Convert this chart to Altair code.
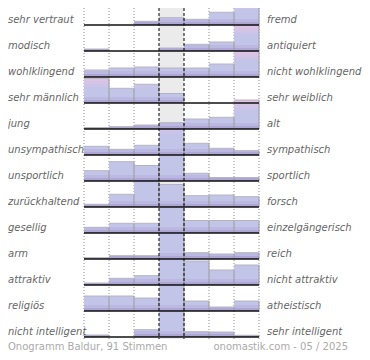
import altair as alt
import pandas as pd

left_labels = ["sehr vertraut", "modisch", "wohlklingend", "sehr männlich", "jung",
               "unsympathisch", "unsportlich", "zurückhaltend", "gesellig", "arm",
               "attraktiv", "religiös", "nicht intelligent"]
right_labels = ["fremd", "antiquiert", "nicht wohlklingend", "sehr weiblich", "alt",
                "sympathisch", "sportlich", "forsch", "einzelgängerisch", "reich",
                "nicht attraktiv", "atheistisch", "sehr intelligent"]

# estimated bar heights per row (7 answer steps, left pole -> right pole)
values = [
    [0, 0, 3.7, 7.3, 5.7, 12.7, 24.5],
    [2, 0, 0, 3, 6.7, 9, 26],
    [7, 9, 10, 9, 9, 13, 26],
    [24.7, 14.7, 18.7, 9.5, 0, 0, 0],
    [1.5, 2.3, 4, 6.3, 10, 11.7, 29],
    [8.7, 5.7, 9.7, 32, 11.7, 6.7, 4.3],
    [10.3, 19.3, 15.5, 40, 7.7, 3.5, 3.5],
    [2.7, 12.7, 40, 22.5, 11.3, 12, 10.3],
    [5.7, 9.7, 9.7, 40, 12.5, 12.5, 12.5],
    [1.3, 3.3, 3.3, 40, 6.3, 5, 6.3],
    [2, 6.7, 9.3, 40, 24, 15, 20],
    [15, 15, 13, 40, 10, 4, 10],
    [2, 0, 7.3, 40, 5.3, 5, 1.7],
]

footer_left = "Onogramm Baldur, 91 Stimmen"
footer_right = "onomastik.com - 05 / 2025"

steps = 7
neutral_step = [4]
dotted_edges = [0, 1, 2, 5, 6, 7]
dashed_edges = [3, 4]

abs_lo = [0, 1, 3, 6]
rel_lo = [0.65, 0.74, 0.82, 0.9, 10]
slice_colors = ["#9d92c8", "#aea7d6", "#bbb9e2", "#c3c5e8", "#cac5e8",
                "#d1c4e6", "#d7c3e5", "#ddc3e4"]

n = len(left_labels)
ROW = 26

recs = []
for i in reversed(range(n)):
    for j, v in enumerate(values[i]):
        recs.append({"row": i, "col": j + 1, "v": v, "base": (n - 1 - i) * ROW})
bars = pd.DataFrame(recs)

rows = pd.DataFrame({
    "row": list(range(n)),
    "left": left_labels,
    "right": right_labels,
    "base": [(n - 1 - i) * ROW for i in range(n)],
})

xs = alt.Scale(domain=[0, steps], nice=False, zero=False)
ys = alt.Scale(domain=[-23, 329], nice=False, zero=False)

bg = alt.Chart(pd.DataFrame({"c": neutral_step})).transform_calculate(
    c0="datum.c - 1"
).mark_rect(color="#ebebeb").encode(
    x=alt.X("c0:Q", scale=xs, axis=None),
    x2="c:Q",
    y=alt.value(0),
    y2=alt.value(331),
)

dotted = alt.Chart(pd.DataFrame({"e": dotted_edges})).mark_rule(
    color="#8a8a8a", strokeDash=[1, 2], strokeWidth=1
).encode(
    x=alt.X("e:Q", scale=xs, axis=None),
    y=alt.value(0),
    y2=alt.value(331),
)

def bound(kexpr):
    return (f"({kexpr}) < 4 ? {abs_lo}[{kexpr}] : "
            f"round(datum.rowmax * {rel_lo}[({kexpr}) - 4])")

slices = alt.Chart(bars).transform_joinaggregate(
    rowmax="max(v)", groupby=["row"]
).transform_calculate(
    k="[0,1,2,3,4,5,6,7]"
).transform_flatten(["k"]).transform_calculate(
    lo=bound("datum.k"), hi=bound("datum.k + 1")
).transform_filter("datum.v > datum.lo").transform_calculate(
    ya="datum.base + datum.lo",
    yb="datum.base + min(datum.v, datum.hi)",
    c0="datum.col - 1",
).mark_rect(strokeWidth=0).encode(
    x=alt.X("c0:Q", scale=xs, axis=None),
    x2="col:Q",
    y=alt.Y("yb:Q", scale=ys, axis=None),
    y2="ya:Q",
    color=alt.Color("k:O", scale=alt.Scale(domain=list(range(8)), range=slice_colors), legend=None),
)

right_edges = alt.Chart(bars).transform_filter("datum.v > 0").transform_calculate(
    top="datum.base + datum.v"
).mark_rule(color="#999999", strokeWidth=1).encode(
    x=alt.X("col:Q", scale=xs, axis=None),
    y=alt.Y("top:Q", scale=ys, axis=None),
    y2="base:Q",
)

top_edges = alt.Chart(bars).transform_filter("datum.v > 0 && datum.v <= 30").transform_calculate(
    top="datum.base + datum.v", c0="datum.col - 1"
).mark_rule(color="#b4b4c0", strokeWidth=1).encode(
    x=alt.X("c0:Q", scale=xs, axis=None),
    x2="col:Q",
    y=alt.Y("top:Q", scale=ys, axis=None),
)

dashed = alt.Chart(pd.DataFrame({"e": dashed_edges})).mark_rule(
    color="#000000", strokeDash=[3, 2], strokeWidth=1
).encode(
    x=alt.X("e:Q", scale=xs, axis=None),
    y=alt.value(0),
    y2=alt.value(331),
)

baselines = alt.Chart(rows).mark_rule(color="#111111", strokeWidth=1.5).encode(
    x=alt.value(0),
    x2=alt.value(175),
    y=alt.Y("base:Q", scale=ys, axis=None),
)

left_text = alt.Chart(rows).mark_text(
    align="left", baseline="alphabetic", dy=-2, font="DejaVu Sans",
    fontStyle="italic", fontSize=10, color="#666666"
).encode(
    x=alt.value(-76),
    y=alt.Y("base:Q", scale=ys, axis=None),
    text="left:N",
)

right_text = alt.Chart(rows).mark_text(
    align="left", baseline="alphabetic", dy=-2, font="DejaVu Sans",
    fontStyle="italic", fontSize=10, color="#666666"
).encode(
    x=alt.value(183),
    y=alt.Y("base:Q", scale=ys, axis=None),
    text="right:N",
)

foot_l = alt.Chart(pd.DataFrame({"t": [footer_left]})).mark_text(
    align="left", baseline="alphabetic", font="DejaVu Sans", fontSize=10, color="#aaaaaa"
).encode(x=alt.value(-76), y=alt.value(342), text="t:N")

foot_r = alt.Chart(pd.DataFrame({"t": [footer_right]})).mark_text(
    align="right", baseline="alphabetic", font="DejaVu Sans", fontSize=10, color="#aaaaaa"
).encode(x=alt.value(264), y=alt.value(342), text="t:N")

chart = alt.layer(
    bg, dotted, slices, right_edges, top_edges, dashed, baselines,
    left_text, right_text, foot_l, foot_r
).properties(
    width=175, height=352,
    padding={"left": 76, "right": 103, "top": 0, "bottom": 0},
    autosize=alt.AutoSizeParams(type="none"),
    background="white",
).configure_view(strokeWidth=0)

chart.save("out.html", embed_options={"renderer": "svg", "actions": False})
